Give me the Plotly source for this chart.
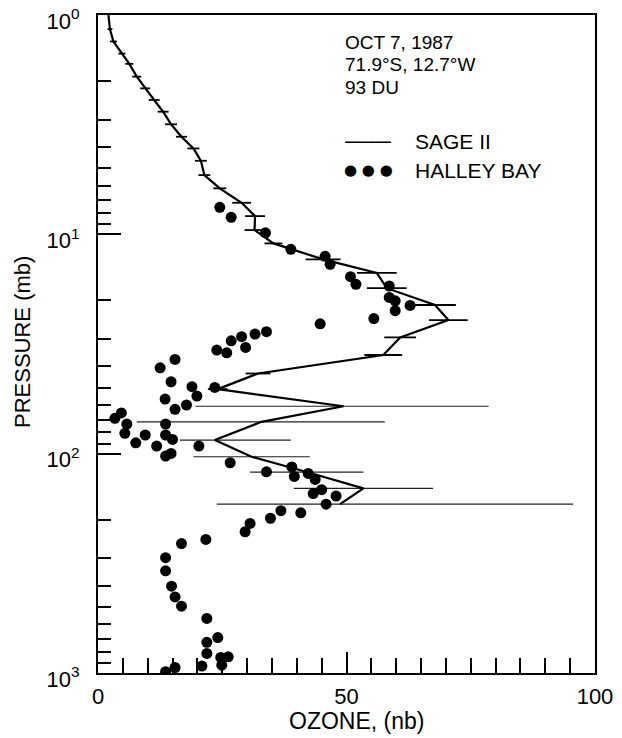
import plotly.graph_objects as go

# SAGE II profile: ozone (nb), pressure (mb), error bar extents (nb)
sage_ozone = [2.1, 2.4, 3.1, 4.8, 6.3, 7.8, 9.5, 11.3, 13.1, 14.7, 16.8, 19.2, 20.7, 21.4,
              24.5, 28.9, 31.6, 31.5, 35.3, 45.3, 56.1, 58.1, 67.8, 70.5, 60.8, 57.4,
              32.2, 24.1, 49.4, 32.9, 23.5, 30.9, 42.0, 53.4, 48.7]
sage_pressure = [1.00, 1.16, 1.32, 1.50, 1.67, 1.91, 2.16, 2.44, 2.76, 3.15, 3.59, 4.06, 4.62, 5.37,
                 6.17, 7.18, 8.26, 9.56, 11.0, 13.0, 15.0, 17.6, 21.0, 24.6, 29.5, 35.5,
                 43.1, 50.8, 60.8, 71.6, 86.7, 103.3, 121.3, 144.0, 170.0]
sage_err_plus = [0.0, 0.5, 0.7, 0.7, 0.8, 0.9, 1.0, 1.1, 1.1, 1.2, 1.1, 1.2, 1.2, 1.2,
                 1.3, 1.9, 2.0, 2.0, 1.8, 3.5, 4.0, 4.0, 4.2, 3.9, 3.2, 3.8,
                 2.5, 2.0, 29.2, 24.8, 15.3, 11.7, 11.4, 14.0, 46.9]
sage_err_minus = [0.0, 0.5, 0.7, 0.7, 0.8, 0.9, 1.0, 1.1, 1.1, 1.2, 1.1, 1.2, 1.2, 1.2,
                  1.3, 1.9, 2.0, 2.0, 1.8, 3.5, 4.0, 4.0, 4.2, 3.9, 3.2, 3.8,
                  2.5, 2.0, 29.8, 25.1, 7.0, 11.7, 11.4, 14.0, 24.8]

# Halley Bay ozonesonde points
halley_ozone = [24.5, 26.8, 33.7, 38.8, 45.7, 46.7, 50.8, 51.9, 58.6, 58.6, 59.8, 62.8, 59.8, 55.5, 44.7,
                33.9, 31.6, 28.9, 26.8, 29.7, 23.9, 25.9, 15.5, 12.5, 14.7, 18.9, 19.9, 23.5,
                13.5, 17.8, 15.5, 3.4, 4.7, 5.8, 13.6, 5.4, 9.5, 13.6, 7.6, 15.0, 11.8, 20.3,
                14.7, 13.6, 26.6,
                33.9, 39.0, 39.5, 42.3, 43.7, 45.0, 43.3, 47.9, 45.9, 40.8, 36.8, 34.7, 30.6,
                29.6, 21.7, 16.8,
                13.6, 13.6, 14.8, 15.5, 16.8, 21.9, 24.1, 21.9, 21.9, 24.7, 26.2, 24.9, 20.9,
                15.5, 13.6]
halley_pressure = [7.53, 8.36, 9.84, 11.7, 12.6, 13.7, 15.6, 16.9, 17.2, 19.4, 20.1, 21.1, 22.3, 24.2, 25.6,
                   27.8, 28.5, 29.3, 30.6, 32.8, 33.7, 34.7, 37.2, 40.6, 47.0, 49.5, 54.6, 49.9,
                   56.4, 60.0, 62.8, 69.0, 65.2, 73.3, 73.3, 80.8, 82.2, 82.2, 89.2, 86.1, 92.3, 92.3,
                   99.7, 102.5, 110.0,
                   121.0, 115.0, 127.0, 123.0, 131.0, 146.0, 152.0, 156.0, 170.0, 186.0, 182.0, 197.0, 208.0,
                   227.0, 246.0, 257.0,
                   298.0, 342.0, 402.0, 450.0, 496.0, 564.0, 689.0, 725.0, 814.0, 849.0, 844.0, 921.0, 930.0,
                   944.0, 987.0]

x_tick_vals = [0, 50, 100]
x_tick_text = ["0", "50", "100"]
y_tick_vals = [1, 10, 100, 1000]
y_tick_text = ["10<sup>0</sup>", "10<sup>1</sup>", "10<sup>2</sup>", "10<sup>3</sup>"]
y_minor_vals = [k * 10 ** d for d in range(3) for k in range(2, 10)]

FONT = "Liberation Sans"
split = 28  # upper bars thick, lower bars thin

fig = go.Figure()

fig.add_trace(go.Scatter(
    x=sage_ozone[:split], y=sage_pressure[:split], mode="markers",
    marker=dict(size=1, color="black", opacity=0), showlegend=False, hoverinfo="skip",
    error_x=dict(type="data", symmetric=False, array=sage_err_plus[:split],
                 arrayminus=sage_err_minus[:split], color="black", thickness=1.8, width=0)))
fig.add_trace(go.Scatter(
    x=sage_ozone[split:], y=sage_pressure[split:], mode="markers",
    marker=dict(size=1, color="black", opacity=0), showlegend=False, hoverinfo="skip",
    error_x=dict(type="data", symmetric=False, array=sage_err_plus[split:],
                 arrayminus=sage_err_minus[split:], color="#222", thickness=1.2, width=0)))
fig.add_trace(go.Scatter(
    x=sage_ozone, y=sage_pressure, mode="lines", name="SAGE II",
    line=dict(color="black", width=2.2), showlegend=False))
fig.add_trace(go.Scatter(
    x=halley_ozone, y=halley_pressure, mode="markers", name="HALLEY BAY",
    marker=dict(color="black", size=11), showlegend=False))

fig.update_xaxes(
    range=[0, 100], tickmode="array", tickvals=x_tick_vals, ticktext=x_tick_text,
    ticks="inside", ticklen=21, tickwidth=1.5, tickcolor="black",
    minor=dict(dtick=5, ticks="inside", ticklen=15, tickwidth=1.5, tickcolor="black", showgrid=False),
    showline=True, linewidth=2, linecolor="black", mirror=True, showgrid=False, zeroline=False,
    tickfont=dict(family=FONT, size=22, color="black"), ticklabelstandoff=3,
    ticklabeloverflow="allow", automargin=False)
fig.update_yaxes(
    type="log", range=[3, 0], tickmode="array", tickvals=y_tick_vals, ticktext=y_tick_text,
    ticks="inside", ticklen=23, tickwidth=1.5, tickcolor="black",
    minor=dict(tickmode="array", tickvals=y_minor_vals, ticks="inside", ticklen=13, tickwidth=1.5,
               tickcolor="black", showgrid=False),
    showline=True, linewidth=2, linecolor="black", mirror=True, showgrid=False, zeroline=False,
    tickfont=dict(family=FONT, size=22, color="black"), ticklabelstandoff=12,
    ticklabeloverflow="allow", ticklabelshift=-6, automargin=False)

# page has an 8px body offset; plot area spans x 98..595, y 15..673 in the window
OFF = 8
def px_x(px):
    return (px - 98) / 497

def px_y(py):
    return (673 - py) / 658

ann_font = dict(family=FONT, size=19, color="black")
leg_font = dict(family=FONT, size=21, color="black")
annotations = [
    dict(text="OCT 7, 1987", x=px_x(343), y=px_y(42), font=ann_font),
    dict(text="71.9°S, 12.7°W", x=px_x(343), y=px_y(65), font=ann_font),
    dict(text="93 DU", x=px_x(343), y=px_y(87), font=ann_font),
    dict(text="——", x=px_x(343), y=px_y(140), font=dict(family=FONT, size=23, color="black")),
    dict(text="SAGE II", x=px_x(413), y=px_y(141), font=leg_font),
    dict(text="● ● ●", x=px_x(342), y=px_y(170), font=dict(family="DejaVu Sans", size=15, color="black")),
    dict(text="HALLEY BAY", x=px_x(413), y=px_y(170), font=leg_font),
]
for a in annotations:
    a.update(xref="paper", yref="paper", xanchor="left", yanchor="middle", showarrow=False)
annotations.append(dict(text="OZONE, (nb)", x=px_x(356), y=px_y(721), xref="paper", yref="paper",
                        xanchor="center", yanchor="middle", showarrow=False,
                        font=dict(family=FONT, size=23, color="black")))
annotations.append(dict(text="PRESSURE (mb)", x=px_x(22), y=px_y(342), xref="paper", yref="paper",
                        xanchor="center", yanchor="middle", showarrow=False, textangle=-90,
                        font=dict(family=FONT, size=22, color="black")))

fig.update_layout(
    width=622 - OFF, height=738 - OFF, margin=dict(l=98 - OFF, r=27, t=15 - OFF, b=65),
    paper_bgcolor="white", plot_bgcolor="white", showlegend=False,
    annotations=annotations)

fig.write_html("out.html")
